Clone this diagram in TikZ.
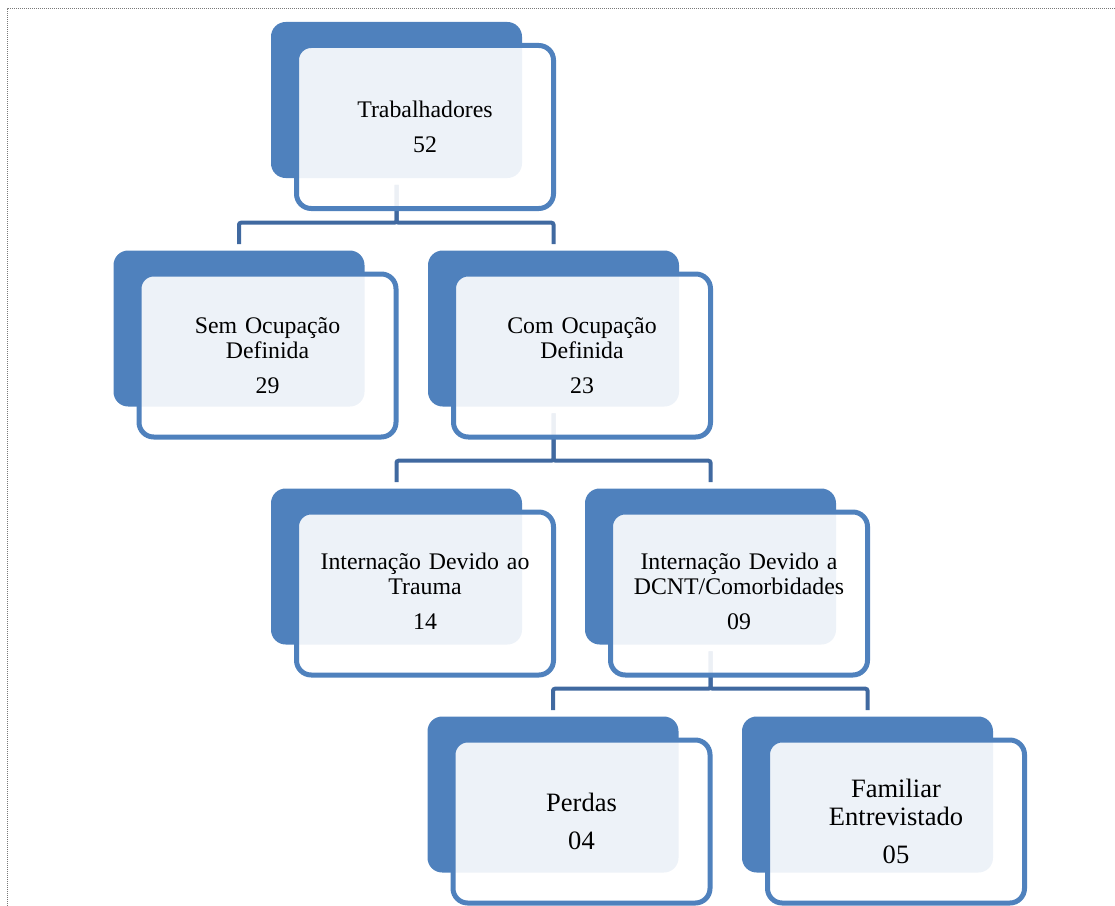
\documentclass[tikz,border=0pt]{standalone}
\usepackage{fontspec}
\setmainfont{Liberation Serif}
\usetikzlibrary{calc}
\pgfdeclarelayer{links}
\pgfsetlayers{links,main}
\definecolor{accent}{RGB}{79,129,189}
\definecolor{linkblue}{RGB}{64,105,160}
\definecolor{framegray}{RGB}{120,120,120}
\tikzset{
  backcard/.style={rectangle, inner sep=0pt, minimum width=188.25pt, minimum height=117pt,
    rounded corners=11pt, fill=accent},
  frontcard/.style={rectangle, inner sep=0pt, minimum width=192.75pt, minimum height=122.25pt,
    rounded corners=11pt, draw=accent, line width=3.75pt, fill=white, fill opacity=0.9},
  cardtext/.style={anchor=base, text width=200pt, align=center, inner sep=0pt,
    font=\fontsize{17.85pt}{18.75pt}\selectfont},
  bigtext/.style={cardtext, font=\fontsize{19.9pt}{21pt}\selectfont},
  link/.style={draw=linkblue, line width=3pt, rounded corners=1.5pt,
    shorten <=5pt, shorten >=4.5pt},
}
\begin{document}
\begin{tikzpicture}[x=0.75pt, y=-0.75pt]
\useasboundingbox (0,0) rectangle (1115,906);

% page frame
\draw[framegray, line width=0.75pt, dash pattern=on 0.75pt off 0.75pt] (7,906) -- (7,9) -- (1115,9);

% level 1
\node[backcard]  (b1) at (396.5,100) {};
\node[frontcard] (f1) at (425,127) {};
\node[cardtext]  (t1) at (425,117.3) {Trabalhadores\\[7.5pt]52};

% level 2
\node[backcard]  (b2) at (239,328.5) {};
\node[frontcard] (f2) at (267.5,355.5) {};
\node[cardtext]  (t2) at (267.5,333.3) {Sem Ocupação\\Definida\\[7.5pt]29};

\node[backcard]  (b3) at (553.5,328.5) {};
\node[frontcard] (f3) at (582,355.5) {};
\node[cardtext]  (t3) at (582,333.3) {Com Ocupação\\Definida\\[7.5pt]23};

% level 3
\node[backcard]  (b4) at (396.5,566.5) {};
\node[frontcard] (f4) at (425,593.5) {};
\node[cardtext]  (t4) at (425,569.3) {Internação Devido ao\\Trauma\\[7.5pt]14};

\node[backcard]  (b5) at (710.5,566.5) {};
\node[frontcard] (f5) at (739,593.5) {};
\node[cardtext]  (t5) at (739,569.3) {Internação Devido a\\DCNT/Comorbidades\\[7.5pt]09};

% level 4
\node[backcard]  (b6) at (553,794.5) {};
\node[frontcard] (f6) at (581.5,821.5) {};
\node[bigtext]   (t6) at (581.5,811) {Perdas\\[7.7pt]04};

\node[backcard]  (b7) at (867.5,794.5) {};
\node[frontcard] (f7) at (896,821.5) {};
\node[bigtext]   (t7) at (896,797.3) {Familiar\\Entrevistado\\[7.7pt]05};

% connectors, kept behind the cards
\begin{pgfonlayer}{links}
  \draw[link] (b1.south) |- ($(b2.north)+(0,-27.5)$) -- (b2.north);
  \draw[link] (b1.south) |- ($(b3.north)+(0,-27.5)$) -- (b3.north);
  \draw[link] (b3.south) |- ($(b4.north)+(0,-27.5)$) -- (b4.north);
  \draw[link] (b3.south) |- ($(b5.north)+(0,-27.5)$) -- (b5.north);
  \draw[link] (b5.south) |- ($(b6.north)+(0,-27.5)$) -- (b6.north);
  \draw[link] (b5.south) |- ($(b7.north)+(0,-27.5)$) -- (b7.north);
\end{pgfonlayer}
\end{tikzpicture}
\end{document}
